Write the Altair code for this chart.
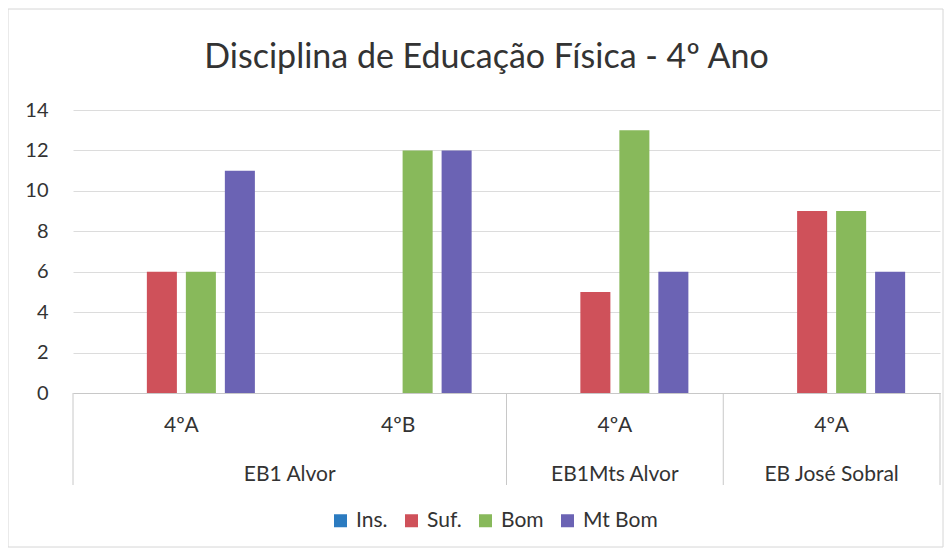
import altair as alt
import pandas as pd

# ---- data ----
schools = ["EB1 Alvor", "EB1 Alvor", "EB1Mts Alvor", "EB José Sobral"]
classes = ["4ºA", "4ºB", "4ºA", "4ºA"]
series = ["Ins.", "Suf.", "Bom", "Mt Bom"]
ins_vals = [0, 0, 0, 0]
suf_vals = [6, 0, 5, 9]
bom_vals = [6, 12, 13, 9]
mtbom_vals = [11, 12, 6, 6]
colors = ["#2b7bc0", "#cf515a", "#88b95b", "#6b63b4"]

ids = [f"{s}|{c}" for s, c in zip(schools, classes)]
vals = {"Ins.": ins_vals, "Suf.": suf_vals, "Bom": bom_vals, "Mt Bom": mtbom_vals}

rows = []
for name in series:
    for i, v in zip(ids, vals[name]):
        rows.append({"cat": i, "serie": name, "valor": v})
bars_df = pd.DataFrame(rows)

inner_df = pd.DataFrame({"cat": ids, "classe": classes})

groups = []
for s in dict.fromkeys(schools):
    members = [i for i, sc in zip(ids, schools) if sc == s]
    groups.append({"escola": s, "first": members[0], "last": members[-1], "n": len(members)})
groups_df = pd.DataFrame(groups)

W, H = 867, 283
font = "Lato"
txt = "#333333"

xscale = alt.Scale(domain=ids, paddingInner=0, paddingOuter=0)

bars = alt.Chart(bars_df).mark_bar().encode(
    x=alt.X("cat:N", scale=xscale, sort=ids,
            axis=alt.Axis(labels=False, ticks=False, title=None, domainColor="#c8c8c8")),
    xOffset=alt.XOffset("serie:N", sort=series,
                        scale=alt.Scale(paddingInner=0.23, paddingOuter=0.894)),
    y=alt.Y("valor:Q", scale=alt.Scale(domain=[0, 14]),
            axis=alt.Axis(values=[0, 2, 4, 6, 8, 10, 12, 14], title=None, domain=False,
                          ticks=False, gridColor="#dcdcdc", labelPadding=25,
                          labelFontSize=20, labelColor=txt, labelFont=font)),
    color=alt.Color("serie:N", sort=series,
                    scale=alt.Scale(domain=series, range=colors),
                    legend=alt.Legend(title=None, orient="none", direction="horizontal",
                                      legendX=257, legendY=400, padding=0, symbolType="square",
                                      symbolSize=169, symbolStrokeWidth=0,
                                      labelFontSize=21, labelFont=font, labelColor=txt,
                                      columnPadding=13, labelOffset=5)),
)

inner = alt.Chart(inner_df).mark_text(fontSize=21, font=font, color=txt, baseline="middle").encode(
    x=alt.X("cat:N", sort=ids, scale=xscale),
    y=alt.value(H + 33),
    text="classe:N",
)

outer_multi = alt.Chart(groups_df).transform_filter("datum.n == 2").mark_text(
    fontSize=21, font=font, color=txt, baseline="middle").encode(
    x=alt.X("first:N", sort=ids, scale=xscale, bandPosition=1),
    y=alt.value(H + 82),
    text="escola:N",
)
outer_single = alt.Chart(groups_df).transform_filter("datum.n == 1").mark_text(
    fontSize=21, font=font, color=txt, baseline="middle").encode(
    x=alt.X("first:N", sort=ids, scale=xscale, bandPosition=0.5),
    y=alt.value(H + 82),
    text="escola:N",
)

div_left = alt.Chart(groups_df).mark_rule(color="#c8c8c8", strokeWidth=1).encode(
    x=alt.X("first:N", sort=ids, scale=xscale, bandPosition=0),
    y=alt.value(H), y2=alt.value(H + 92),
)
div_right = alt.Chart(groups_df.tail(1)).mark_rule(color="#c8c8c8", strokeWidth=1).encode(
    x=alt.X("last:N", sort=ids, scale=xscale, bandPosition=1),
    y=alt.value(H), y2=alt.value(H + 92),
)

frame = alt.Chart(pd.DataFrame({"a": [0]})).mark_rect(
    fill=None, stroke="#d6d6d6", strokeWidth=1).encode(
    x=alt.value(-65), x2=alt.value(W + 3), y=alt.value(-101), y2=alt.value(H + 154),
)

chart = alt.layer(frame, div_left, div_right, bars, inner, outer_multi, outer_single).properties(
    width=W, height=H,
    padding={"left": 65, "top": 102, "right": 4, "bottom": 155},
    autosize=alt.AutoSizeParams(type="none"),
    title=alt.TitleParams("Disciplina de Educação Física - 4º Ano", fontSize=34, font=font,
                          fontWeight="normal", color=txt, anchor="middle",
                          frame="group", offset=-66, dx=-20),
).configure_view(stroke=None)

chart.save("out.html", embed_options={"renderer": "svg", "actions": False})
